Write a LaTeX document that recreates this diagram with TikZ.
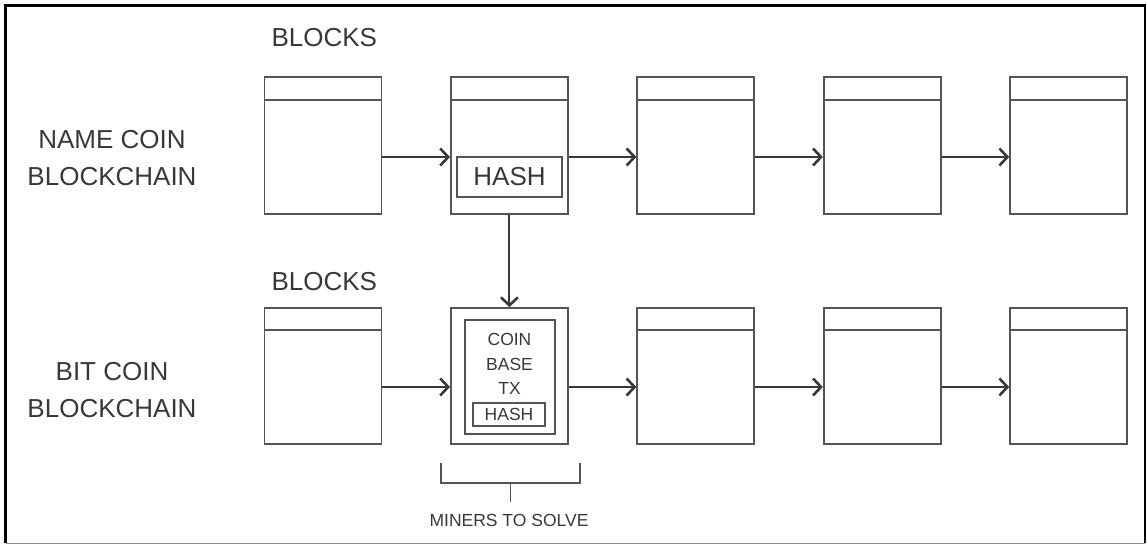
\documentclass[tikz,border=0pt]{standalone}
\usepackage{fontspec}
\setmainfont{Liberation Sans}
\usetikzlibrary{arrows.meta, positioning, calc}
\definecolor{linegray}{HTML}{555555}
\definecolor{inkgray}{HTML}{383838}
\definecolor{framegray}{HTML}{8A8A8A}

\begin{document}
\begin{tikzpicture}[
    x=1pt, y=-1pt,
    every node/.style={text=inkgray},
    blk/.style={draw=linegray, line width=1.8pt, minimum width=117pt, minimum height=137pt, inner sep=0pt},
    box/.style={draw=linegray, line width=1.8pt, inner sep=0pt},
    big/.style={font=\fontsize{26}{37}\selectfont, align=center},
    small/.style={font=\fontsize{17.5}{24.5}\selectfont, align=center},
    link/.style={draw=inkgray, line width=2pt, -{Straight Barb[length=8pt,width=17pt,line width=2.6pt]}},
]
\def\X#1{323 + (#1-1)*186.4}
\useasboundingbox (0,0) rectangle (1147,545);

% ---------------- frame
\draw[black, line width=2.4pt] (5.5,543) -- (5.5,5.5) -- (1145,5.5) -- (1145,543);
\draw[framegray, line width=1pt] (5.5,543.5) -- (1145,543.5);

% ---------------- name coin chain
\node[big, anchor=west] (topblocks) at (268, 38) {BLOCKS};
\node[big] (namecoin) at (112, 158.5) {NAME COIN\\BLOCKCHAIN};
\foreach \k in {1,...,5}{
    \node[blk] (n\k) at ({\X{\k}}, 145.5) {};
    \draw[linegray, line width=1.8pt] ([yshift=-24pt]n\k.north west) -- ([yshift=-24pt]n\k.north east);
}
\node[box, big, minimum width=105pt, minimum height=40pt] (nhash) at (509.5, 177) {HASH};

% ---------------- bit coin chain
\node[big, anchor=west] (botblocks) at (268, 282) {BLOCKS};
\node[big] (bitcoin) at (112, 390.5) {BIT COIN\\BLOCKCHAIN};
\foreach \k in {1,...,5}{
    \node[blk, minimum height=136pt] (b\k) at ({\X{\k}}, 376) {};
}
\foreach \k in {1,3,4,5}{
    \draw[linegray, line width=1.8pt] ([yshift=-23pt]b\k.north west) -- ([yshift=-23pt]b\k.north east);
}
\node[box, minimum width=90pt, minimum height=114pt] (coinbase) at (510, 377) {};
\node[small] (cbtext) at (509.5, 364) {COIN\\BASE\\TX};
\node[box, small, minimum width=72pt, minimum height=23pt] (bhash) at (509, 414.5) {HASH};

% ---------------- links
\foreach \a/\b in {1/2, 2/3, 3/4, 4/5}{
    \draw[link] ([yshift=-11.5pt]n\a.east) -- ([yshift=-11.5pt]n\b.west);
    \draw[link] ([yshift=-11pt]b\a.east) -- ([yshift=-11pt]b\b.west);
}
\draw[link] (n2.south) -- (b2.north);

% ---------------- miners bracket
\coordinate (brl) at (441, 463);
\coordinate (brr) at (580, 463);
\draw[linegray, line width=1.6pt] (brl) -- ++(0,20) -| (brr);
\draw[linegray, line width=1.6pt] (510.5, 483) -- (510.5, 502);
\node[small] (miners) at (509, 520) {MINERS TO SOLVE};
\end{tikzpicture}
\end{document}
